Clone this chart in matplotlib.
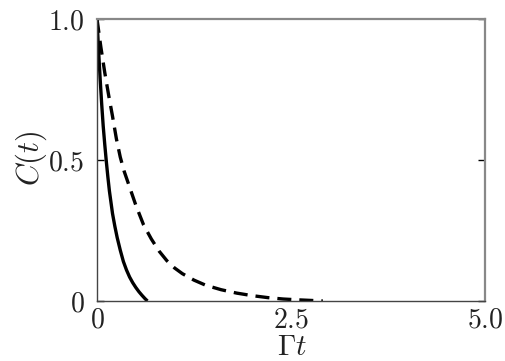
import matplotlib
matplotlib.use("Agg")
import matplotlib.pyplot as plt

plt.rcParams['mathtext.fontset'] = 'cm'
plt.rcParams['font.family'] = 'serif'
plt.rcParams['font.serif'] = ['DejaVu Serif']

# solid curve (fast decay)
t_solid = [0.0, 0.02, 0.04, 0.06, 0.08, 0.10, 0.12, 0.14, 0.16, 0.18, 0.20, 0.23, 0.26, 0.30,
           0.34, 0.38, 0.42, 0.46, 0.50, 0.54, 0.58, 0.62, 0.65]
c_solid = [1.0, 0.89, 0.79, 0.70, 0.62, 0.555, 0.495, 0.44, 0.39, 0.35, 0.31, 0.265, 0.225, 0.18,
           0.14, 0.11, 0.085, 0.065, 0.048, 0.033, 0.020, 0.008, 0.0]

# dashed curve (slower decay)
t_dash = [0.0, 0.05, 0.1, 0.15, 0.2, 0.25, 0.3, 0.35, 0.4, 0.5, 0.6, 0.7, 0.8, 0.9, 1.0, 1.1,
          1.25, 1.4, 1.6, 1.8, 2.0, 2.2, 2.4, 2.6, 2.8, 2.91]
c_dash = [1.0, 0.90, 0.81, 0.73, 0.655, 0.575, 0.51, 0.46, 0.42, 0.34, 0.27, 0.22, 0.177, 0.143,
          0.117, 0.097, 0.074, 0.056, 0.040, 0.028, 0.019, 0.012, 0.007, 0.004, 0.0015, 0.0]

xticks = [0, 2.5, 5.0]
xticklabels = [r'$0$', r'$2.5$', r'$5.0$']
yticks = [0, 0.5, 1.0]
yticklabels = [r'$0$', r'$0.5$', r'$1.0$']

fig = plt.figure(figsize=(5.06, 3.61), dpi=100)
ax = fig.add_axes([97/506, 1 - 301/361, (485-97)/506, (301-19)/361])

ax.plot(t_solid, c_solid, color='black', lw=2.4, solid_capstyle='butt', solid_joinstyle='round')
ax.plot(t_dash, c_dash, color='black', lw=2.4, dashes=(4.2, 2.4))

ax.set_xlim(0, 5)
ax.set_ylim(0, 1)
ax.set_xticks(xticks)
ax.set_xticklabels(xticklabels, fontsize=20, color='#222222')
ax.set_yticks(yticks)
ax.set_yticklabels(yticklabels, fontsize=20, color='#222222')
ax.tick_params(axis='x', length=0, pad=4)
ax.tick_params(axis='y', direction='in', length=5, width=1, pad=9, right=True, left=True)

for s in ['top', 'right']:
    ax.spines[s].set_color('#888888')
    ax.spines[s].set_linewidth(1.6)
for s in ['left', 'bottom']:
    ax.spines[s].set_color('#444444')
    ax.spines[s].set_linewidth(1.0)

ax.set_xlabel(r'$\Gamma t$', fontsize=21, color='#222222', va='center')
ax.xaxis.set_label_coords((292-97)/388, (301-347)/282)
ax.set_ylabel(r'$C(t)$', fontsize=22, color='#222222', va='center')
ax.yaxis.set_label_coords((31-97)/388, (301-158)/282)

fig.savefig('out.png', dpi=100)
